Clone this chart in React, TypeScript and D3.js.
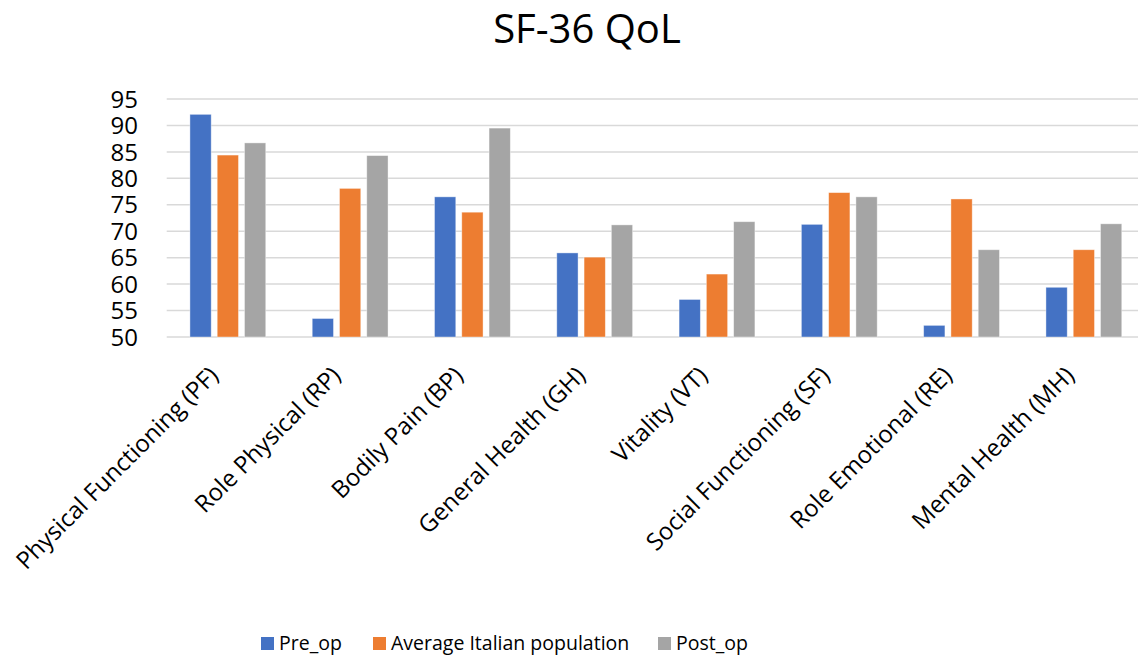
import * as d3 from "d3";
import React, {useEffect, useRef} from "react";

const categories = [
  "Physical Functioning (PF)",
  "Role Physical (RP)",
  "Bodily Pain (BP)",
  "General Health (GH)",
  "Vitality (VT)",
  "Social Functioning (SF)",
  "Role Emotional (RE)",
  "Mental Health (MH)",
];
const seriesNames = ["Pre_op", "Average Italian population", "Post_op"];
const preOp = [92.1, 53.5, 76.5, 65.9, 57.1, 71.3, 52.2, 59.4];
const avgItalian = [84.4, 78.1, 73.6, 65.1, 61.9, 77.3, 76.1, 66.5];
const postOp = [86.7, 84.3, 89.5, 71.2, 71.8, 76.5, 66.5, 71.4];
const yTicks = [50, 55, 60, 65, 70, 75, 80, 85, 90, 95];
const colors = ["#4472C4", "#ED7D31", "#A5A5A5"];

const FONT = "'Open Sans', 'Liberation Sans', sans-serif";

const App: React.FC = () => {
  const ref = useRef<SVGSVGElement | null>(null);

  useEffect(() => {
    document.body.style.margin = "0";
    const width = 1138;
    const height = 658;
    const svg = d3.select(ref.current);
    svg.selectAll("*").remove();
    svg.attr("width", width).attr("height", height);

    const plot = {left: 166.7, right: 1145, top: 99, bottom: 337};

    const x = d3.scaleBand<number>()
      .domain(categories.map((_, i) => i))
      .range([plot.left, plot.right]);
    const y = d3.scaleLinear().domain([50, 95]).range([plot.bottom, plot.top]);

    const barW = x.bandwidth() * 0.174;
    const gap = 6;
    const groupW = barW * 3 + gap * 2;
    const inner = d3.scaleLinear().domain([0, 1]).range([0, barW + gap]);

    // gridlines
    svg.append("g")
      .selectAll("line")
      .data(yTicks)
      .enter()
      .append("line")
      .attr("x1", plot.left)
      .attr("x2", width)
      .attr("y1", (d) => y(d))
      .attr("y2", (d) => y(d))
      .attr("stroke", "#d9d9d9")
      .attr("stroke-width", 1.5);

    // y tick labels
    svg.append("g")
      .selectAll("text")
      .data(yTicks)
      .enter()
      .append("text")
      .attr("x", 138)
      .attr("y", (d) => y(d))
      .attr("dy", "0.36em")
      .attr("text-anchor", "end")
      .style("font-family", FONT)
      .style("font-size", "24px")
      .attr("fill", "#000")
      .text((d) => d);

    const allSeries = [preOp, avgItalian, postOp];
    allSeries.forEach((vals, s) => {
      svg.append("g")
        .selectAll("rect")
        .data(vals)
        .enter()
        .append("rect")
        .attr("x", (_, i) => (x(i) as number) + (x.bandwidth() - groupW) / 2 + inner(s))
        .attr("y", (d) => y(d))
        .attr("width", barW)
        .attr("height", (d) => y(50) - y(d))
        .attr("fill", colors[s])
        .attr("stroke", "#fff")
        .attr("stroke-opacity", 0.5)
        .attr("stroke-width", 0.8);
    });

    // category labels
    svg.append("g")
      .selectAll("text")
      .data(categories)
      .enter()
      .append("text")
      .attr("transform", (_, i) => `translate(${(x(i) as number) + x.bandwidth() / 2 - 8}, ${plot.bottom + 40}) rotate(-45)`)
      .attr("text-anchor", "end")
      .style("font-family", FONT)
      .style("font-size", "24px")
      .attr("fill", "#000")
      .text((d) => d);

    // title
    svg.append("text")
      .attr("x", 587)
      .attr("y", 43)
      .attr("text-anchor", "middle")
      .style("font-family", FONT)
      .style("font-size", "40px")
      .attr("fill", "#000")
      .text("SF-36 QoL");

    // legend
    const legendX = [261, 373, 658];
    const legend = svg.append("g")
      .selectAll("g")
      .data(seriesNames)
      .enter()
      .append("g")
      .attr("transform", (_, i) => `translate(${legendX[i]}, 637)`);
    legend.append("rect")
      .attr("width", 13)
      .attr("height", 13)
      .attr("fill", (_, i) => colors[i]);
    legend.append("text")
      .attr("x", 18)
      .attr("y", 13)
      .style("font-family", FONT)
      .style("font-size", "19.5px")
      .attr("fill", "#000")
      .text((d) => d);

    return () => {
      svg.selectAll("*").remove();
    };
  }, []);

  return <svg ref={ref} />;
};

export default App;
